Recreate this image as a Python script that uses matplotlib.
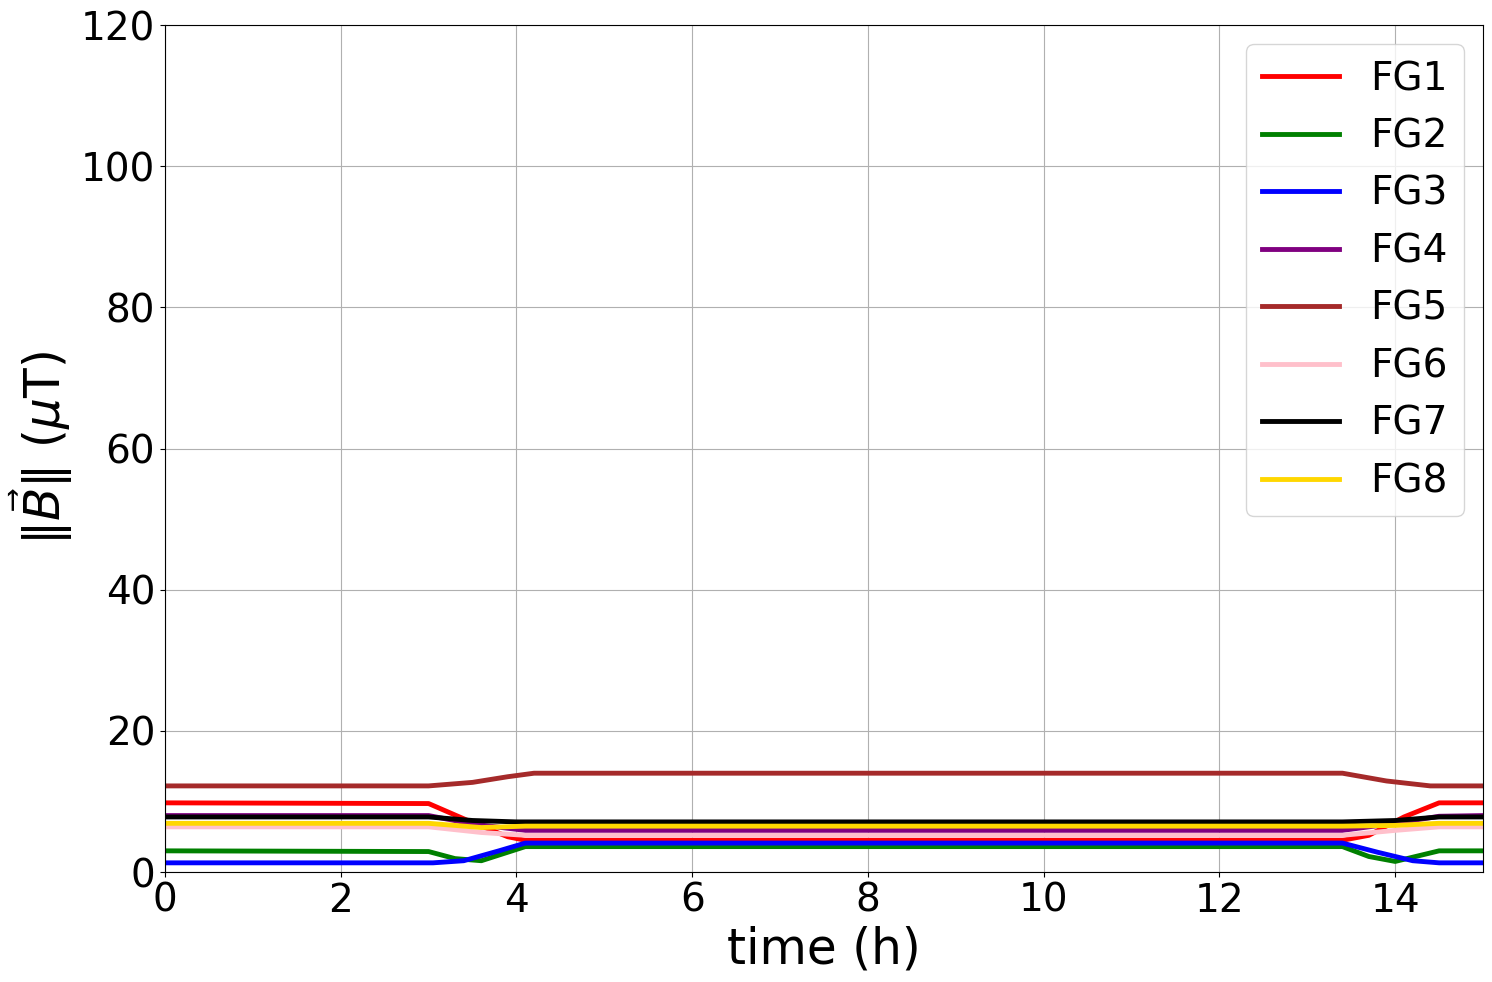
import matplotlib
matplotlib.use("Agg")
import matplotlib.pyplot as plt
import numpy as np

# keypoints (time in h, field in uT)
t_fg1 = [0, 3.0, 3.5, 3.9, 4.1, 13.4, 13.7, 14.1, 14.5, 15]
b_fg1 = [9.8, 9.7, 7.0, 5.0, 4.5, 4.5, 5.2, 7.8, 9.8, 9.8]

t_fg2 = [0, 3.0, 3.3, 3.6, 3.9, 4.1, 13.4, 13.7, 14.0, 14.3, 14.5, 15]
b_fg2 = [3.0, 2.9, 1.9, 1.6, 2.8, 3.6, 3.6, 2.2, 1.5, 2.4, 3.0, 3.0]

t_fg3 = [0, 3.05, 3.4, 3.8, 4.1, 13.4, 13.8, 14.2, 14.5, 15]
b_fg3 = [1.3, 1.3, 1.6, 3.0, 4.1, 4.1, 2.8, 1.6, 1.3, 1.3]

t_fg4 = [0, 3.0, 3.5, 4.1, 13.4, 14.0, 14.5, 15]
b_fg4 = [8.0, 8.0, 6.8, 5.9, 5.9, 6.9, 7.9, 8.0]

t_fg5 = [0, 3.0, 3.5, 3.9, 4.2, 13.4, 13.9, 14.4, 15]
b_fg5 = [12.2, 12.2, 12.7, 13.5, 14.0, 14.0, 12.9, 12.2, 12.2]

t_fg6 = [0, 3.0, 3.6, 4.1, 13.4, 14.0, 14.5, 15]
b_fg6 = [6.4, 6.4, 5.6, 5.2, 5.2, 5.9, 6.4, 6.4]

t_fg7 = [0, 3.0, 3.5, 4.0, 13.4, 14.0, 14.5, 15]
b_fg7 = [7.8, 7.8, 7.3, 7.1, 7.1, 7.3, 7.8, 7.8]

t_fg8 = [0, 3.0, 3.6, 4.1, 13.4, 14.0, 14.5, 15]
b_fg8 = [6.9, 6.9, 6.3, 6.5, 6.5, 6.6, 6.9, 6.9]

series = [
    ("FG1", t_fg1, b_fg1, "red"),
    ("FG2", t_fg2, b_fg2, "green"),
    ("FG3", t_fg3, b_fg3, "blue"),
    ("FG4", t_fg4, b_fg4, "purple"),
    ("FG5", t_fg5, b_fg5, "brown"),
    ("FG6", t_fg6, b_fg6, "pink"),
    ("FG7", t_fg7, b_fg7, "black"),
    ("FG8", t_fg8, b_fg8, "gold"),
]

fig = plt.figure(figsize=(14.92, 9.82), dpi=100)
ax = fig.add_axes([0.1106, 0.112, 0.8834, 0.8625])
for name, t, b, c in series:
    ax.plot(t, b, color=c, linewidth=3.5, label=name)

ax.set_xlim(0, 15)
ax.set_ylim(0, 120)
ax.set_xticks(np.arange(0, 15, 2))
ax.set_yticks(np.arange(0, 121, 20))
ax.tick_params(labelsize=28)
ax.set_xlabel("time (h)", fontsize=35)
ax.set_ylabel(r"$\|\vec{B}\|$ ($\mu$T)", fontsize=35)
ax.grid(True)
ax.legend(loc="upper right", fontsize=28)

plt.savefig("out.png", dpi=100)
